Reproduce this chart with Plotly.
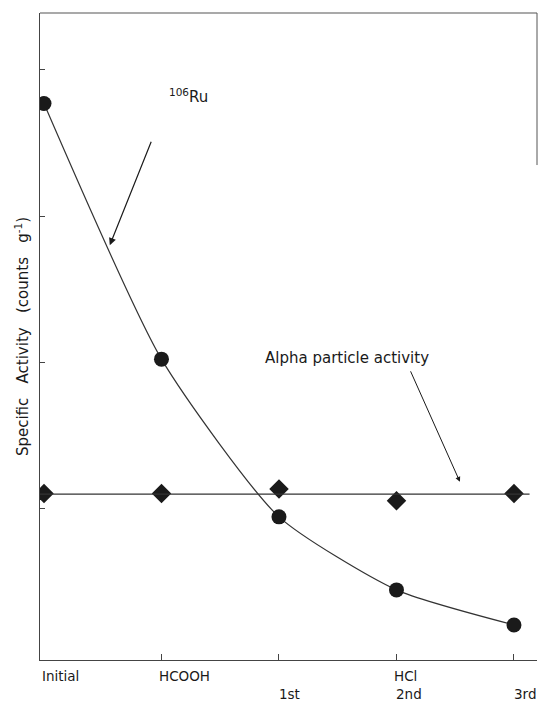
import plotly.graph_objects as go

categories = ["Initial", "HCOOH", "1st", "2nd", "3rd"]
tick_top = ["Initial", "HCOOH", "", "HCl", ""]
tick_bottom = ["", "", "1st", "2nd", "3rd"]
ru106 = [3.77, 2.02, 0.94, 0.44, 0.20]
alpha = [1.10, 1.10, 1.13, 1.05, 1.10]

xi = list(range(len(categories)))
FONT = "DejaVu Sans"
INK = "#1a1a1a"

fig = go.Figure()
fig.add_trace(go.Scatter(x=xi, y=ru106, mode="lines+markers", line=dict(color="#333", width=1.2, shape="spline", smoothing=0.6),
                         marker=dict(symbol="circle", size=15, color=INK), showlegend=False))
fig.add_trace(go.Scatter(x=xi, y=alpha, mode="markers",
                         marker=dict(symbol="diamond", size=15, color=INK), showlegend=False))
alpha_mean = sum(alpha) / len(alpha)
fig.add_shape(type="line", xref="paper", x0=0, x1=0.985, yref="y", y0=alpha_mean, y1=alpha_mean,
              line=dict(color="#333", width=1.2))
# partial right frame edge
fig.add_shape(type="line", xref="paper", x0=1, x1=1, yref="paper", y0=0.765, y1=1,
              line=dict(color="#555", width=1))

for i in xi:
    if tick_top[i]:
        fig.add_annotation(x=i, y=-0.025, xref="x", yref="paper", text=tick_top[i], showarrow=False,
                           xanchor="left", yanchor="middle", xshift=-4, font=dict(family=FONT, size=13.5, color=INK))
    if tick_bottom[i]:
        fig.add_annotation(x=i, y=-0.053, xref="x", yref="paper", text=tick_bottom[i], showarrow=False,
                           xanchor="left", yanchor="middle", xshift=-2, font=dict(family=FONT, size=13.5, color=INK))

fig.add_annotation(x=1.23, y=3.82, text="<sup>106</sup>Ru", showarrow=False,
                   font=dict(family=FONT, size=15, color=INK))
fig.add_annotation(x=0.56, y=2.80, ax=42, ay=-105, text="", showarrow=True, arrowhead=2,
                   arrowsize=1.2, arrowwidth=1.2, arrowcolor=INK)
fig.add_annotation(x=2.58, y=2.03, text="Alpha particle activity", showarrow=False,
                   font=dict(family=FONT, size=15, color=INK))
fig.add_annotation(x=3.54, y=1.18, ax=-50, ay=-112, text="", showarrow=True, arrowhead=2,
                   arrowsize=1.0, arrowwidth=1.0, arrowcolor=INK)

fig.update_layout(
    width=542, height=703, margin=dict(l=40, r=5, t=13, b=43),
    paper_bgcolor="white", plot_bgcolor="white",
    font=dict(family=FONT, color=INK),
    xaxis=dict(range=[-0.034, 4.196], tickvals=[1, 2, 3, 4], ticks="inside", ticklen=6,
               tickcolor="#444", showticklabels=False, showgrid=False, zeroline=False,
               showline=True, linecolor="#444", linewidth=1.2, mirror=False),
    yaxis=dict(range=[-0.04, 4.39], tickvals=[1, 2, 3, 4], ticks="inside", ticklen=5,
               tickcolor="#444", showticklabels=False, showgrid=False, zeroline=False,
               showline=True, linecolor="#444", linewidth=1.2,
               title=dict(text="Specific   Activity   (counts   g<sup>-1</sup>)", standoff=6,
                          font=dict(family=FONT, size=15, color=INK))),
)
fig.add_shape(type="line", xref="paper", x0=0, x1=1, yref="paper", y0=1, y1=1,
              line=dict(color="#555", width=1.2))

fig.write_html("out.html")
